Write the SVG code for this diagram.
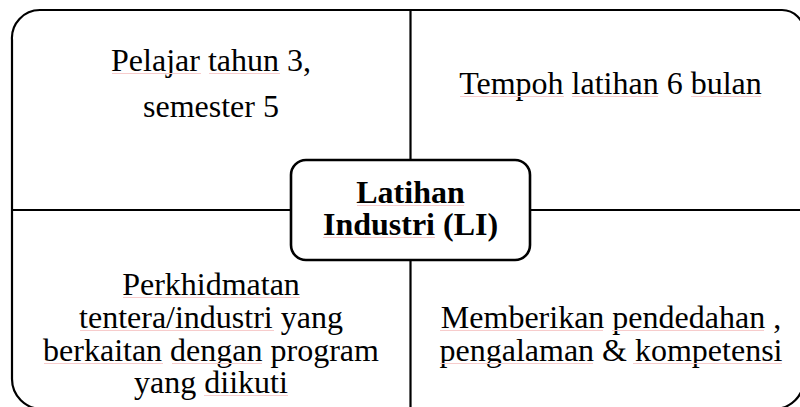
<svg xmlns="http://www.w3.org/2000/svg" width="800" height="407" viewBox="0 0 800 407">
<style>
.t{font-family:"Liberation Serif","Times New Roman",serif;font-size:32px;fill:#000;text-anchor:middle}
.b{font-weight:bold}
.ln{fill:none;stroke:#000;stroke-width:2.2}
.sq{stroke:#f7cccc;stroke-width:1;fill:none}
</style>
<rect width="800" height="407" fill="#fff"/>
<g id="connectors">
<path class="ln" d="M42,10 H782 A22,22 0 0 1 804,32 V379 A30,30 0 0 1 774,409 H42 A30,30 0 0 1 12,379 V40 A28,28 0 0 1 40,10 Z"/>
<line class="ln" x1="410.5" y1="10" x2="410.5" y2="160"/>
<line class="ln" x1="410.5" y1="260" x2="410.5" y2="409"/>
<line class="ln" x1="12" y1="210" x2="291" y2="210"/>
<line class="ln" x1="530" y1="210" x2="804" y2="210"/>
</g>
<g id="q1">
<text class="t" x="211" y="71">Pelajar tahun 3,</text>
<text class="t" x="211" y="117">semester 5</text>
<path class="sq" d="M112,73.5 H201 M209,73.5 H280"/>
</g>
<g id="q2">
<text class="t" x="610.5" y="94">Tempoh latihan 6 bulan</text>
<path class="sq" d="M460,96.5 H564 M572,96.5 H658 M691,96.5 H761"/>
</g>
<g id="q3">
<text class="t" x="211" y="295">Perkhidmatan</text>
<text class="t" x="211" y="328">tentera/industri yang</text>
<text class="t" x="211" y="361">berkaitan dengan program</text>
<text class="t" x="211" y="393">yang diikuti</text>
<path class="sq" d="M123,297.5 H300 M80,330.5 H274 M44,363.5 H163 M172,363.5 H262 M204,395.5 H288"/>
</g>
<g id="q4">
<text class="t" x="611" y="328">Memberikan pendedahan ,</text>
<text class="t" x="611" y="361">pengalaman &amp; kompetensi</text>
<path class="sq" d="M440,330.5 H603 M612,330.5 H764 M440,363.5 H593 M633,363.5 H782"/>
</g>
<g id="center">
<rect x="291" y="160" width="239" height="100" rx="15" fill="#fff" stroke="#000" stroke-width="2.6"/>
<text class="t b" x="410.5" y="203">Latihan</text>
<text class="t b" x="410.5" y="235">Industri (LI)</text>
<path class="sq" d="M357,205.5 H464 M323,237.5 H435"/>
</g>
</svg>
